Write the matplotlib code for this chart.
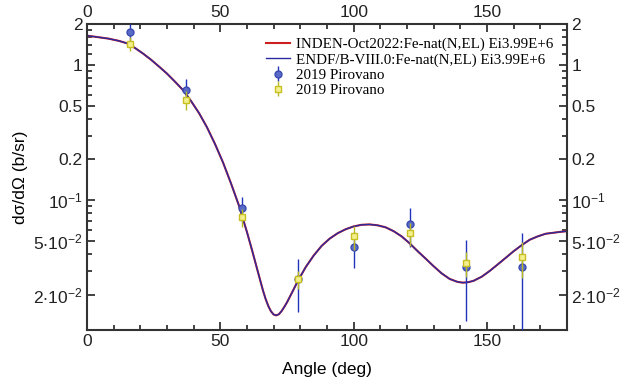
import numpy as np
import matplotlib
matplotlib.use('Agg')
import matplotlib.pyplot as plt
from matplotlib.ticker import FixedLocator, FixedFormatter, NullFormatter

plt.rcParams['font.family'] = ['Liberation Sans', 'DejaVu Sans']
plt.rcParams['mathtext.fontset'] = 'custom'
plt.rcParams['mathtext.rm'] = 'Liberation Sans'
plt.rcParams['mathtext.default'] = 'regular'

# Evaluated curve (both libraries practically identical)
angle = [0, 4, 8, 12, 15, 18, 21, 24, 27, 30, 33, 36, 39, 42, 45, 48, 51,
         54, 57, 60, 62, 64, 66, 67, 68, 69, 70, 71, 72, 73, 74, 75, 77,
         79, 82, 85, 88, 91, 94, 97, 100, 103, 106, 109, 112, 115, 118,
         121, 124, 127, 130, 133, 136, 139, 141, 143, 145, 148, 151, 154,
         157, 160, 163, 166, 169, 172, 175, 178, 180]
xsInden = [1.64, 1.60, 1.56, 1.50, 1.44, 1.33, 1.21, 1.09, 0.97, 0.86,
           0.75, 0.65, 0.54, 0.44, 0.345, 0.26, 0.19, 0.133, 0.091, 0.058,
           0.042, 0.030, 0.0215, 0.0186, 0.0165, 0.0151, 0.0143, 0.0141,
           0.0144, 0.0152, 0.0163, 0.0176, 0.021, 0.0252, 0.032, 0.039,
           0.046, 0.052, 0.057, 0.061, 0.064, 0.0658, 0.0662, 0.0652,
           0.063, 0.059, 0.054, 0.048, 0.042, 0.037, 0.0325, 0.0288, 0.0262,
           0.0249, 0.0246, 0.0248, 0.0254, 0.0272, 0.030, 0.0335, 0.0375,
           0.042, 0.0465, 0.051, 0.054, 0.0565, 0.0575, 0.0585, 0.059]
xsEndf = xsInden

# 2019 Pirovano measurements
expAngle = [16, 37, 58, 79, 100, 121, 142, 163]
circY = [1.75, 0.653, 0.0873, 0.026, 0.0449, 0.0664, 0.0319, 0.0319]
circErr = [0.25, 0.13, 0.018, 0.011, 0.0135, 0.021, 0.019, 0.025]
sqY = [1.43, 0.55, 0.0748, 0.026, 0.054, 0.057, 0.0341, 0.0378]
sqErr = [0.16, 0.09, 0.011, 0.004, 0.011, 0.011, 0.007, 0.011]

yMajor = [0.02, 0.05, 0.1, 0.2, 0.5, 1, 2]
yMajorLabels = ['$2{\\cdot}10^{-2}$', '$5{\\cdot}10^{-2}$', '$10^{-1}$',
                '0.2', '0.5', '1', '2']
yMinor = [0.03, 0.04, 0.06, 0.07, 0.08, 0.09, 0.3, 0.4, 0.6, 0.7, 0.8, 0.9,
          1.2, 1.4, 1.6, 1.8]

fig = plt.figure(figsize=(6.36, 3.85), dpi=100)
ax = fig.add_axes([0.1368, 0.1429, 0.7547, 0.7948])

ax.plot(angle, xsInden, color='#cc2020', linewidth=1.5,
        label='INDEN-Oct2022:Fe-nat(N,EL) Ei3.99E+6')
ax.plot(angle, xsEndf, color='#2a2aa0', linewidth=1.0,
        label='ENDF/B-VIII.0:Fe-nat(N,EL) Ei3.99E+6')

ax.errorbar(expAngle, circY, yerr=circErr, fmt='o', color='#2233bb',
            ecolor='#2233bb', elinewidth=1, markersize=5,
            markerfacecolor='#5a6ac8', markeredgecolor='#3a4ab0',
            label='2019 Pirovano', zorder=3)
ax.errorbar(expAngle, sqY, yerr=sqErr, fmt='s', color='#c0c020',
            ecolor='#b8b820', elinewidth=1, markersize=5,
            markerfacecolor='#f4f090', markeredgecolor='#c8c020',
            label='2019 Pirovano', zorder=4)

ax.set_yscale('log')
ax.set_xlim(0, 180)
ax.set_ylim(0.011, 2)

ax.set_xticks([0, 50, 100, 150])
ax.set_xticks(np.arange(10, 180, 10), minor=True)
ax.yaxis.set_major_locator(FixedLocator(yMajor))
ax.yaxis.set_major_formatter(FixedFormatter(yMajorLabels))
ax.yaxis.set_minor_locator(FixedLocator(yMinor))
ax.yaxis.set_minor_formatter(NullFormatter())

ax.tick_params(which='both', direction='in', top=True, right=True,
               labeltop=True, labelright=True, labelsize=12.5,
               colors='#222222', width=1.2)
ax.tick_params(which='major', length=6, pad=3)
ax.tick_params(which='minor', length=3.5)
for s in ax.spines.values():
    s.set_linewidth(1.5)
    s.set_color('#333333')

ax.set_xlabel('Angle (deg)', fontsize=12.5, labelpad=9)
ax.set_ylabel('dσ/dΩ (b/sr)', fontsize=12.5, labelpad=4)

leg = ax.legend(loc='upper right', frameon=False,
                prop={'family': 'Liberation Serif', 'size': 10.8},
                handlelength=1.6, handletextpad=0.4, labelspacing=0.12,
                borderaxespad=0.5, borderpad=0.4)

fig.savefig('out.png', dpi=100)
